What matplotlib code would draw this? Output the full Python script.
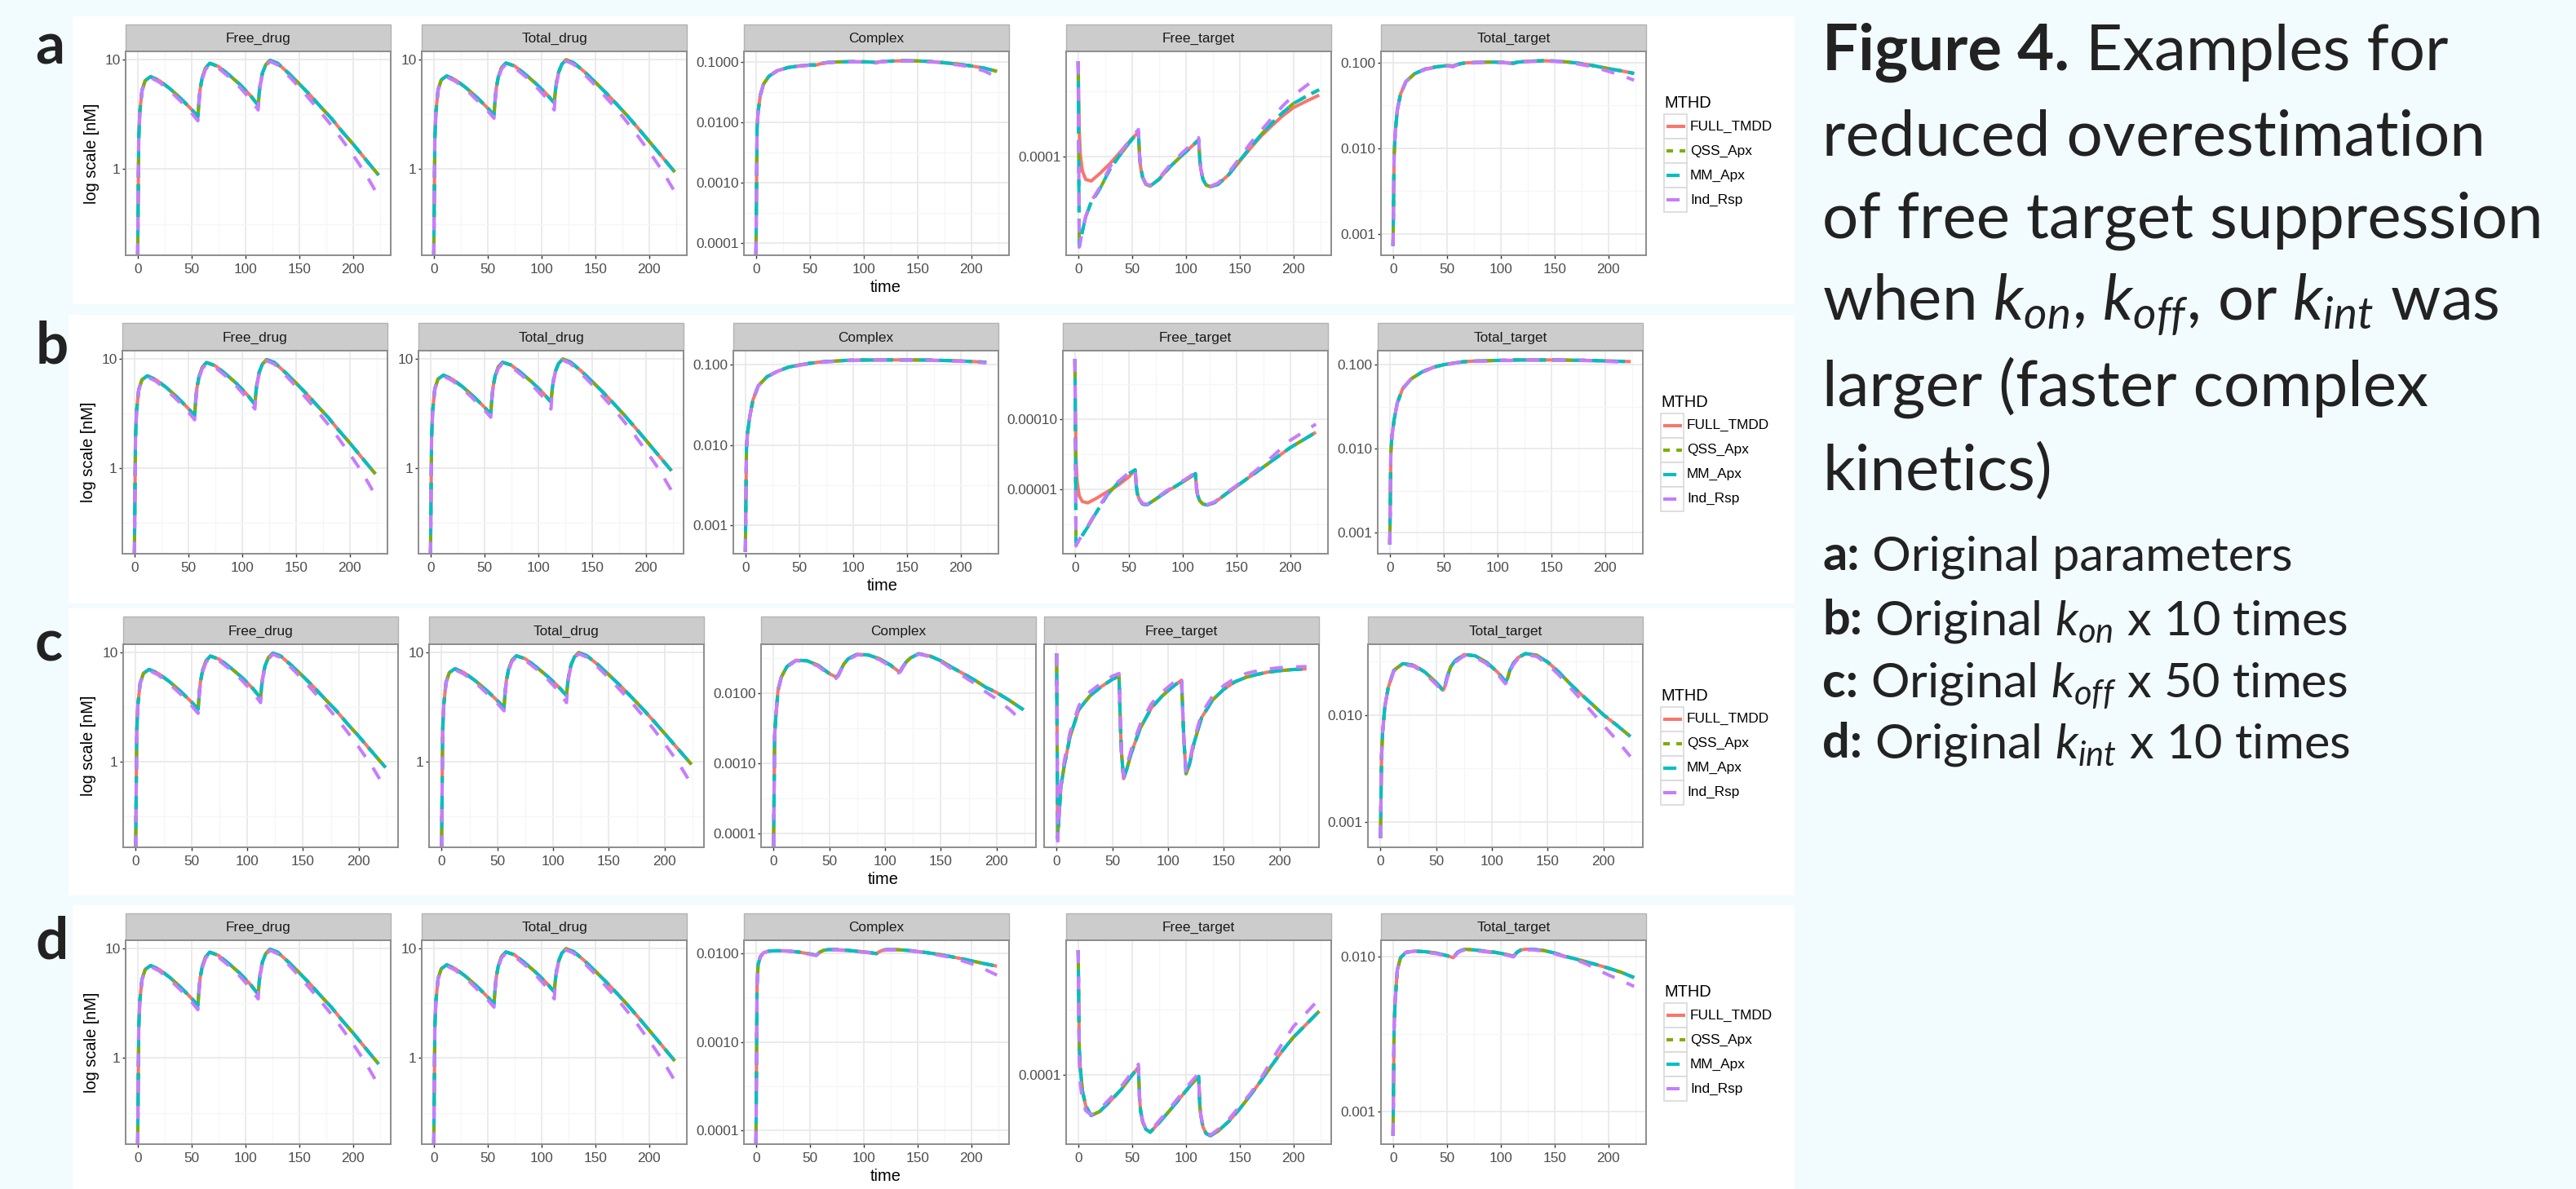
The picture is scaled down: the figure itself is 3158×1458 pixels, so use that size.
import matplotlib
matplotlib.use("Agg")
import math
import matplotlib.pyplot as plt
from matplotlib.patches import Rectangle
from matplotlib.ticker import NullFormatter

W, H, DPI = 3158, 1458, 200

plt.rcParams["font.family"] = ["Liberation Sans", "DejaVu Sans"]
plt.rcParams["mathtext.fontset"] = "custom"
plt.rcParams["mathtext.rm"] = "Lato"
plt.rcParams["mathtext.it"] = "Lato:italic"
plt.rcParams["mathtext.bf"] = "Lato:bold"

BG = "#F2FBFD"
TXT = "#222222"

METHODS = ["FULL_TMDD", "QSS_Apx", "MM_Apx", "Ind_Rsp"]
COLORS = ["#F8766D", "#7CAE00", "#00BFC4", "#C77CFF"]
DASHES = [None, (2, 2), (4, 2), (4, 4)]
PANELS = ["Free_drug", "Total_drug", "Complex", "Free_target", "Total_target"]

# sampling times (doses at 0, 56, 112)
TIME = [0, 1, 2, 4, 7, 12, 20, 30, 40, 50, 56, 57, 58, 60, 63, 67, 75, 85, 95, 105,
        112, 113, 114, 116, 119, 123, 130, 140, 150, 160, 170, 180, 190, 200, 212, 224]

# drug panels look the same in all four rows
FREE_DRUG_FULL = [0.16, 1.9, 3.3, 5.2, 6.4, 6.95, 6.4, 5.4, 4.4, 3.5, 3.0, 4.2, 5.3, 6.8, 8.3, 9.2, 8.6, 7.2,
                  5.9, 4.65, 3.8, 5.0, 6.0, 7.5, 8.9, 9.8, 9.2, 7.5, 6.0, 4.75, 3.7, 2.9, 2.2, 1.7, 1.22, 0.88]
FREE_DRUG_IND = [0.16, 1.9, 3.3, 5.1, 6.3, 6.8, 6.2, 5.15, 4.15, 3.25, 2.75, 3.95, 5.05, 6.55, 8.05, 8.95, 8.3, 6.9,
                 5.55, 4.3, 3.45, 4.7, 5.75, 7.25, 8.65, 9.55, 8.9, 7.1, 5.6, 4.3, 3.3, 2.5, 1.85, 1.35, 0.9, 0.56]
TOTAL_DRUG_FULL = [0.16, 1.9, 3.3, 5.3, 6.5, 7.05, 6.5, 5.5, 4.5, 3.6, 3.1, 4.3, 5.4, 6.9, 8.4, 9.25, 8.7, 7.3,
                   6.0, 4.8, 4.0, 5.1, 6.1, 7.6, 9.0, 9.9, 9.3, 7.7, 6.2, 4.95, 3.9, 3.05, 2.35, 1.8, 1.3, 0.94]
TOTAL_DRUG_IND = [0.16, 1.9, 3.3, 5.2, 6.4, 6.9, 6.3, 5.3, 4.25, 3.4, 2.9, 4.1, 5.2, 6.7, 8.15, 9.0, 8.4, 7.0,
                  5.65, 4.4, 3.45, 4.8, 5.9, 7.4, 8.8, 9.65, 9.0, 7.3, 5.8, 4.5, 3.5, 2.65, 1.98, 1.45, 0.98, 0.62]

# a: original parameters
A_COMPLEX_FULL = [6.5e-5, 0.008, 0.015, 0.028, 0.043, 0.058, 0.072, 0.081, 0.086, 0.089, 0.089, 0.090, 0.091, 0.093,
                  0.096, 0.098, 0.100, 0.101, 0.101, 0.100, 0.098, 0.099, 0.100, 0.101, 0.102, 0.103, 0.104, 0.105,
                  0.104, 0.102, 0.099, 0.095, 0.091, 0.086, 0.079, 0.070]
A_COMPLEX_IND = [6.5e-5, 0.008, 0.015, 0.028, 0.043, 0.058, 0.072, 0.080, 0.085, 0.088, 0.087, 0.089, 0.090, 0.092,
                 0.095, 0.097, 0.099, 0.100, 0.100, 0.099, 0.096, 0.098, 0.099, 0.100, 0.101, 0.102, 0.103, 0.104,
                 0.103, 0.101, 0.098, 0.093, 0.088, 0.082, 0.071, 0.056]
A_FREE_TARGET_FULL = [5.4e-4, 1.59e-4, 1.03e-4, 7.75e-5, 6.71e-5, 6.52e-5, 7.43e-5, 8.95e-5, 1.11e-4, 1.38e-4,
                      1.55e-4, 1.03e-4, 8.33e-5, 6.91e-5, 6.15e-5, 5.98e-5, 6.71e-5, 8.33e-5, 1.0e-4, 1.19e-4,
                      1.35e-4, 9.62e-5, 7.98e-5, 6.71e-5, 6.07e-5, 5.9e-5, 6.15e-5, 7.31e-5, 9.21e-5, 1.16e-4,
                      1.44e-4, 1.73e-4, 2.06e-4, 2.38e-4, 2.67e-4, 2.97e-4]
A_FREE_TARGET_QSS = [5.4e-4, 2.07e-5, 2.28e-5, 2.71e-5, 3.46e-5, 4.48e-5, 5.64e-5, 8.2e-5, 1.06e-4, 1.36e-4,
                     1.55e-4, 1.03e-4, 8.33e-5, 6.91e-5, 6.15e-5, 5.98e-5, 6.71e-5, 8.33e-5, 1.0e-4, 1.19e-4,
                     1.35e-4, 9.62e-5, 7.98e-5, 6.71e-5, 6.07e-5, 5.9e-5, 6.15e-5, 7.31e-5, 9.35e-5, 1.18e-4,
                     1.48e-4, 1.81e-4, 2.18e-4, 2.56e-4, 2.91e-4, 3.27e-4]
A_FREE_TARGET_IND = [5.4e-4, 2.03e-5, 2.25e-5, 2.7e-5, 3.5e-5, 4.55e-5, 5.8e-5, 8.5e-5, 1.1e-4, 1.41e-4,
                     1.62e-4, 1.06e-4, 8.5e-5, 7.0e-5, 6.2e-5, 6.05e-5, 6.85e-5, 8.6e-5, 1.04e-4, 1.24e-4,
                     1.40e-4, 1.0e-4, 8.2e-5, 6.8e-5, 6.1e-5, 5.95e-5, 6.3e-5, 7.6e-5, 9.75e-5, 1.27e-4,
                     1.59e-4, 1.98e-4, 2.45e-4, 2.95e-4, 3.51e-4, 4.14e-4]
A_TOTAL_TARGET_FULL = [7.2e-4, 0.008, 0.015, 0.028, 0.043, 0.060, 0.074, 0.084, 0.089, 0.092, 0.091, 0.092, 0.093,
                       0.095, 0.097, 0.099, 0.100, 0.101, 0.101, 0.100, 0.098, 0.099, 0.100, 0.101, 0.102, 0.103,
                       0.104, 0.105, 0.104, 0.102, 0.099, 0.095, 0.090, 0.085, 0.080, 0.0746]
A_TOTAL_TARGET_IND = [7.2e-4, 0.008, 0.015, 0.028, 0.043, 0.060, 0.074, 0.083, 0.088, 0.091, 0.089, 0.091, 0.092,
                      0.094, 0.096, 0.098, 0.099, 0.100, 0.100, 0.099, 0.096, 0.098, 0.099, 0.100, 0.101, 0.102,
                      0.103, 0.104, 0.103, 0.101, 0.097, 0.092, 0.086, 0.079, 0.071, 0.0622]

# b: kon x 10
B_COMPLEX_FULL = [4.7e-4, 0.009, 0.014, 0.022, 0.036, 0.054, 0.070, 0.082, 0.092, 0.098, 0.101, 0.101, 0.102, 0.103,
                  0.104, 0.106, 0.108, 0.110, 0.112, 0.113, 0.113, 0.113, 0.113, 0.113, 0.113, 0.1134, 0.1134,
                  0.1134, 0.1134, 0.113, 0.113, 0.112, 0.111, 0.110, 0.108, 0.106]
B_COMPLEX_IND = [4.7e-4, 0.009, 0.014, 0.022, 0.036, 0.054, 0.070, 0.082, 0.091, 0.097, 0.100, 0.100, 0.101, 0.102,
                 0.104, 0.105, 0.107, 0.109, 0.111, 0.112, 0.112, 0.112, 0.112, 0.113, 0.113, 0.113, 0.113, 0.113,
                 0.113, 0.112, 0.112, 0.111, 0.110, 0.109, 0.107, 0.104]
B_FREE_TARGET_FULL = [7.36e-4, 2.93e-5, 1.31e-5, 8.07e-6, 6.68e-6, 6.41e-6, 7.45e-6, 9.23e-6, 1.14e-5, 1.5e-5,
                      1.9e-5, 1.14e-5, 8.75e-6, 7.03e-6, 6.17e-6, 6.0e-6, 7.24e-6, 9.23e-6, 1.14e-5, 1.42e-5,
                      1.68e-5, 1.05e-5, 8.28e-6, 6.87e-6, 6.17e-6, 5.96e-6, 6.5e-6, 8.51e-6, 1.10e-5, 1.42e-5,
                      1.83e-5, 2.36e-5, 3.05e-5, 3.94e-5, 5.08e-5, 6.56e-5]
B_FREE_TARGET_QSS = [7.36e-4, 1.6e-6, 1.7e-6, 1.9e-6, 2.22e-6, 2.9e-6, 4.71e-6, 8.28e-6, 1.24e-5, 1.67e-5,
                     1.9e-5, 1.14e-5, 8.75e-6, 7.03e-6, 6.17e-6, 6.0e-6, 7.24e-6, 9.23e-6, 1.14e-5, 1.42e-5,
                     1.68e-5, 1.05e-5, 8.28e-6, 6.87e-6, 6.17e-6, 5.96e-6, 6.5e-6, 8.51e-6, 1.10e-5, 1.42e-5,
                     1.83e-5, 2.36e-5, 3.05e-5, 3.94e-5, 5.08e-5, 6.56e-5]
B_FREE_TARGET_IND = [7.36e-4, 1.55e-6, 1.68e-6, 1.9e-6, 2.25e-6, 3.0e-6, 4.9e-6, 8.6e-6, 1.28e-5, 1.72e-5,
                     1.97e-5, 1.18e-5, 9.0e-6, 7.2e-6, 6.3e-6, 6.1e-6, 7.4e-6, 9.5e-6, 1.18e-5, 1.47e-5,
                     1.74e-5, 1.08e-5, 8.5e-6, 7.0e-6, 6.25e-6, 6.05e-6, 6.65e-6, 8.75e-6, 1.13e-5, 1.48e-5,
                     1.96e-5, 2.63e-5, 3.63e-5, 5.01e-5, 6.56e-5, 8.58e-5]
B_TOTAL_TARGET_FULL = [7.2e-4, 0.009, 0.014, 0.022, 0.035, 0.052, 0.068, 0.082, 0.093, 0.100, 0.103, 0.103, 0.104,
                       0.105, 0.106, 0.108, 0.110, 0.111, 0.112, 0.113, 0.113, 0.113, 0.113, 0.114, 0.114, 0.114,
                       0.114, 0.114, 0.114, 0.114, 0.113, 0.113, 0.112, 0.111, 0.110, 0.109]
B_TOTAL_TARGET_IND = [7.2e-4, 0.009, 0.014, 0.022, 0.035, 0.052, 0.068, 0.081, 0.092, 0.099, 0.102, 0.102, 0.103,
                      0.104, 0.106, 0.107, 0.109, 0.110, 0.111, 0.112, 0.112, 0.112, 0.113, 0.113, 0.113, 0.114,
                      0.114, 0.114, 0.113, 0.113, 0.112, 0.112, 0.111, 0.110, 0.108, 0.106]

# c: koff x 50
C_COMPLEX_FULL = [6.5e-5, 0.0025, 0.0045, 0.011, 0.017, 0.024, 0.0295, 0.029, 0.025, 0.019, 0.017, 0.0175, 0.018,
                  0.021, 0.026, 0.031, 0.036, 0.035, 0.031, 0.025, 0.0205, 0.0205, 0.021, 0.024, 0.028, 0.032,
                  0.0365, 0.034, 0.029, 0.0233, 0.019, 0.0155, 0.0122, 0.0102, 0.0078, 0.0058]
C_COMPLEX_IND = [6.5e-5, 0.0025, 0.0045, 0.011, 0.017, 0.0235, 0.029, 0.0283, 0.0242, 0.0183, 0.0162, 0.017,
                 0.0175, 0.0205, 0.0254, 0.030, 0.0352, 0.0342, 0.030, 0.024, 0.0195, 0.0198, 0.0205, 0.0235,
                 0.0275, 0.0315, 0.036, 0.0333, 0.0282, 0.022, 0.0175, 0.0138, 0.0105, 0.0082, 0.0058, 0.0038]
C_FREE_TARGET_FULL = [8.66e-3, 1.15e-3, 1.42e-3, 2.05e-3, 2.57e-3, 3.49e-3, 4.70e-3, 5.45e-3, 6.02e-3, 6.52e-3,
                      6.74e-3, 4.30e-3, 3.01e-3, 2.21e-3, 2.46e-3, 2.93e-3, 3.83e-3, 4.78e-3, 5.46e-3, 6.07e-3,
                      6.46e-3, 4.70e-3, 3.44e-3, 2.33e-3, 2.57e-3, 3.23e-3, 4.30e-3, 5.22e-3, 5.86e-3, 6.35e-3,
                      6.67e-3, 6.88e-3, 7.06e-3, 7.16e-3, 7.25e-3, 7.31e-3]
C_FREE_TARGET_IND = [8.66e-3, 1.12e-3, 1.45e-3, 2.12e-3, 2.7e-3, 3.65e-3, 4.9e-3, 5.7e-3, 6.25e-3, 6.75e-3,
                     6.95e-3, 4.4e-3, 3.05e-3, 2.25e-3, 2.55e-3, 3.05e-3, 4.0e-3, 5.0e-3, 5.7e-3, 6.3e-3,
                     6.7e-3, 4.8e-3, 3.5e-3, 2.4e-3, 2.65e-3, 3.35e-3, 4.5e-3, 5.45e-3, 6.1e-3, 6.6e-3,
                     6.95e-3, 7.15e-3, 7.3e-3, 7.4e-3, 7.45e-3, 7.5e-3]
C_TOTAL_TARGET_FULL = [7.1e-4, 0.004, 0.007, 0.012, 0.018, 0.026, 0.030, 0.029, 0.025, 0.020, 0.017, 0.0175, 0.019,
                       0.023, 0.028, 0.032, 0.0365, 0.0355, 0.031, 0.025, 0.0205, 0.021, 0.022, 0.026, 0.030, 0.034,
                       0.0372, 0.036, 0.031, 0.025, 0.0195, 0.0155, 0.0125, 0.010, 0.0080, 0.0063]
C_TOTAL_TARGET_IND = [7.1e-4, 0.004, 0.007, 0.012, 0.018, 0.0255, 0.0295, 0.0283, 0.0242, 0.0192, 0.0162, 0.017,
                      0.0183, 0.0222, 0.027, 0.031, 0.0355, 0.0345, 0.030, 0.024, 0.0195, 0.0202, 0.0213, 0.0252,
                      0.0292, 0.033, 0.0365, 0.035, 0.0295, 0.0235, 0.018, 0.0138, 0.0105, 0.0080, 0.0058, 0.0041]

# d: kint x 10
D_COMPLEX_FULL = [7.0e-5, 0.0045, 0.0075, 0.0092, 0.0102, 0.0107, 0.0108, 0.0107, 0.0104, 0.0099, 0.0096, 0.0098,
                  0.0101, 0.0105, 0.0109, 0.0111, 0.0111, 0.0109, 0.0106, 0.0103, 0.0100, 0.0102, 0.0104, 0.0107,
                  0.0110, 0.0111, 0.0111, 0.0109, 0.0106, 0.0102, 0.0098, 0.0093, 0.0088, 0.0083, 0.0077, 0.0072]
D_COMPLEX_IND = [7.0e-5, 0.0045, 0.0075, 0.0092, 0.0102, 0.0107, 0.0108, 0.0107, 0.0103, 0.0098, 0.0095, 0.0097,
                 0.0100, 0.0104, 0.0108, 0.0110, 0.0110, 0.0108, 0.0105, 0.0102, 0.0099, 0.0101, 0.0103, 0.0106,
                 0.0109, 0.0110, 0.0110, 0.0108, 0.0105, 0.0101, 0.0096, 0.0091, 0.0084, 0.0077, 0.0067, 0.0057]
D_FREE_TARGET_FULL = [9.0e-4, 1.6e-4, 1.12e-4, 7.46e-5, 5.77e-5, 4.85e-5, 5.21e-5, 6.28e-5, 7.69e-5, 9.89e-5,
                      1.14e-4, 6.66e-5, 5.29e-5, 4.32e-5, 3.8e-5, 3.62e-5, 4.26e-5, 5.29e-5, 6.66e-5, 8.38e-5,
                      9.68e-5, 5.85e-5, 4.85e-5, 3.96e-5, 3.53e-5, 3.4e-5, 3.69e-5, 4.38e-5, 5.44e-5, 6.95e-5,
                      9.0e-5, 1.18e-4, 1.53e-4, 1.93e-4, 2.43e-4, 3.06e-4]
D_FREE_TARGET_IND = [9.0e-4, 1.25e-4, 8.5e-5, 6.3e-5, 5.3e-5, 4.9e-5, 5.4e-5, 6.6e-5, 8.1e-5, 1.04e-4,
                     1.2e-4, 6.9e-5, 5.4e-5, 4.4e-5, 3.85e-5, 3.68e-5, 4.4e-5, 5.5e-5, 6.95e-5, 8.8e-5,
                     1.02e-4, 6.0e-5, 4.95e-5, 4.0e-5, 3.58e-5, 3.45e-5, 3.8e-5, 4.55e-5, 5.7e-5, 7.15e-5,
                     9.4e-5, 1.29e-4, 1.75e-4, 2.33e-4, 2.97e-4, 3.80e-4]
D_TOTAL_TARGET_FULL = [7.0e-4, 0.0035, 0.0052, 0.0082, 0.0098, 0.0106, 0.0108, 0.0107, 0.0105, 0.0101, 0.0098,
                       0.0100, 0.0102, 0.0106, 0.0109, 0.0111, 0.0110, 0.0108, 0.0106, 0.0103, 0.0100, 0.0102,
                       0.0104, 0.0107, 0.0110, 0.0111, 0.0111, 0.0109, 0.0105, 0.0100, 0.0096, 0.0092, 0.0088,
                       0.0084, 0.0079, 0.0073]
D_TOTAL_TARGET_IND = [7.0e-4, 0.0035, 0.0052, 0.0082, 0.0098, 0.0106, 0.0108, 0.0106, 0.0104, 0.0100, 0.0097,
                      0.0099, 0.0101, 0.0105, 0.0108, 0.0110, 0.0109, 0.0107, 0.0105, 0.0102, 0.0099, 0.0101,
                      0.0103, 0.0106, 0.0109, 0.0110, 0.0110, 0.0108, 0.0104, 0.0099, 0.0095, 0.0089, 0.0082,
                      0.0076, 0.0070, 0.0064]

# y ranges and labelled breaks per panel
DRUG_LIM = (0.164, 11.8)
DRUG_TICKS = ["1", "10"]
YLIM = [
    [DRUG_LIM, DRUG_LIM, (6.34e-5, 0.1496), (1.76e-5, 6.43e-4), (5.62e-4, 0.135)],
    [DRUG_LIM, DRUG_LIM, (4.46e-4, 0.1476), (1.2e-6, 9.64e-4), (5.62e-4, 0.147)],
    [DRUG_LIM, DRUG_LIM, (6.34e-5, 0.0499), (1.047e-3, 9.55e-3), (5.85e-4, 0.0455)],
    [DRUG_LIM, DRUG_LIM, (6.92e-5, 0.01416), (2.93e-5, 1.07e-3), (6.19e-4, 0.01268)],
]
YTICKS = [
    [DRUG_TICKS, DRUG_TICKS, ["0.0001", "0.0010", "0.0100", "0.1000"], ["0.0001"], ["0.001", "0.010", "0.100"]],
    [DRUG_TICKS, DRUG_TICKS, ["0.001", "0.010", "0.100"], ["0.00001", "0.00010"], ["0.001", "0.010", "0.100"]],
    [DRUG_TICKS, DRUG_TICKS, ["0.0001", "0.0010", "0.0100"], [], ["0.001", "0.010"]],
    [DRUG_TICKS, DRUG_TICKS, ["0.0001", "0.0010", "0.0100"], ["0.0001"], ["0.001", "0.010"]],
]
XTICKS = [0, 50, 100, 150, 200]
XMINOR = [25, 75, 125, 175, 225]


def four(full, ind, approx=None):
    approx = full if approx is None else approx
    return [full, approx, approx, ind]


SERIES = [
    [four(FREE_DRUG_FULL, FREE_DRUG_IND), four(TOTAL_DRUG_FULL, TOTAL_DRUG_IND),
     four(A_COMPLEX_FULL, A_COMPLEX_IND), four(A_FREE_TARGET_FULL, A_FREE_TARGET_IND, A_FREE_TARGET_QSS),
     four(A_TOTAL_TARGET_FULL, A_TOTAL_TARGET_IND)],
    [four(FREE_DRUG_FULL, FREE_DRUG_IND), four(TOTAL_DRUG_FULL, TOTAL_DRUG_IND),
     four(B_COMPLEX_FULL, B_COMPLEX_IND), four(B_FREE_TARGET_FULL, B_FREE_TARGET_IND, B_FREE_TARGET_QSS),
     four(B_TOTAL_TARGET_FULL, B_TOTAL_TARGET_IND)],
    [four(FREE_DRUG_FULL, FREE_DRUG_IND), four(TOTAL_DRUG_FULL, TOTAL_DRUG_IND),
     four(C_COMPLEX_FULL, C_COMPLEX_IND), four(C_FREE_TARGET_FULL, C_FREE_TARGET_IND),
     four(C_TOTAL_TARGET_FULL, C_TOTAL_TARGET_IND)],
    [four(FREE_DRUG_FULL, FREE_DRUG_IND), four(TOTAL_DRUG_FULL, TOTAL_DRUG_IND),
     four(D_COMPLEX_FULL, D_COMPLEX_IND), four(D_FREE_TARGET_FULL, D_FREE_TARGET_IND),
     four(D_TOTAL_TARGET_FULL, D_TOTAL_TARGET_IND)],
]

# layout in pixels of the 3158 x 1458 canvas
ROW_LETTERS = ["a", "b", "c", "d"]
LETTER_POS = [(61, 78), (64, 445), (60, 810), (64, 1175)]
BOX = [(89, 20, 373), (84, 386, 740), (84, 746, 1098), (89, 1110, 1458)]
BOX_RIGHT = 2200
STRIP_TOP = [30, 396, 756, 1120]
PLOT_TOP = [63, 430, 790, 1153]
PLOT_BOTTOM = [313, 679, 1039, 1403]
PANEL_LEFT = [[154, 517, 912, 1307, 1693], [150, 513, 899, 1303, 1689],
              [151, 526, 933, 1280, 1677], [154, 517, 912, 1307, 1693]]
PANEL_WIDTH = [325, 325, 337, 325]

SMALL = 6.2
TITLE = 7.2
LW = 1.45

fig = plt.figure(figsize=(W / DPI, H / DPI), dpi=DPI, facecolor=BG)
bg = fig.add_axes([0, 0, 1, 1])
bg.set_xlim(0, W)
bg.set_ylim(H, 0)
bg.axis("off")


def style_line(line, dash):
    line.set_solid_capstyle("butt")
    line.set_dash_capstyle("butt")
    if dash is not None:
        line.set_dashes(dash)


for r in range(4):
    x0, y0, y1 = BOX[r]
    bg.add_patch(Rectangle((x0, y0), BOX_RIGHT - x0, y1 - y0, facecolor="white", edgecolor="none"))
    lx, ly = LETTER_POS[r]
    bg.text(lx, ly, ROW_LETTERS[r], family="Lato", weight="bold", fontsize=25.5, color=TXT,
            ha="center", va="baseline")

    w = PANEL_WIDTH[r]
    top, bot = PLOT_TOP[r], PLOT_BOTTOM[r]
    for p in range(5):
        left = PANEL_LEFT[r][p]
        bg.add_patch(Rectangle((left, STRIP_TOP[r]), w, top - STRIP_TOP[r], facecolor="#CCCCCC",
                               edgecolor="#B3B3B3", linewidth=0.5))
        bg.text(left + w / 2, (STRIP_TOP[r] + top) / 2 + 1, PANELS[p], fontsize=SMALL, color="#1A1A1A",
                ha="center", va="center")

        ax = fig.add_axes([left / W, 1 - bot / H, w / W, (bot - top) / H])
        ax.set_facecolor("white")
        ax.set_yscale("log")
        lo, hi = YLIM[r][p]
        for vals, color, dash in zip(SERIES[r][p], COLORS, DASHES):
            line, = ax.plot(TIME, vals, color=color, lw=LW)
            style_line(line, dash)
        ax.set_xlim(-11.2, 235.2)
        ax.set_ylim(lo, hi)

        labels = YTICKS[r][p]
        ax.set_yticks([float(s) for s in labels], labels=labels)
        minor = []
        if labels:
            for k in range(math.floor(math.log10(lo)) - 1, math.ceil(math.log10(hi)) + 1):
                v = 10 ** (k + 0.5)
                if lo < v < hi:
                    minor.append(v)
        ax.set_yticks(minor, minor=True)
        ax.yaxis.set_minor_formatter(NullFormatter())
        ax.set_xticks(XTICKS)
        ax.set_xticks(XMINOR, minor=True)

        ax.grid(which="major", color="#E8E8E8", linewidth=0.6)
        ax.grid(which="minor", color="#F6F6F6", linewidth=0.5)
        ax.set_axisbelow(True)
        for s in ax.spines.values():
            s.set_color("#8C8C8C")
            s.set_linewidth(0.7)
        ax.tick_params(which="minor", length=0)
        ax.tick_params(which="major", length=1.5, width=0.5, color="#333333",
                       labelsize=SMALL, labelcolor="#4D4D4D")
        ax.tick_params(axis="x", pad=2.0)
        ax.tick_params(axis="y", pad=0.8)

    # axis titles
    mid_y = (top + bot) / 2
    bg.text(PANEL_LEFT[r][0] - 42, mid_y, "log scale [nM]", rotation=90, fontsize=TITLE, color="black",
            ha="center", va="center")
    span_l, span_r = PANEL_LEFT[r][0], PANEL_LEFT[r][4] + w
    bg.text((span_l + span_r) / 2, bot + 39, "time", fontsize=TITLE, color="black", ha="center", va="center")

    # legend
    gx = span_r + 22
    bg.text(gx, mid_y - 61.5, "MTHD", fontsize=TITLE, color="black", ha="left", va="center")
    for i, (name, color, dash) in enumerate(zip(METHODS, COLORS, DASHES)):
        yc = mid_y - 33 + 30 * i
        bg.add_patch(Rectangle((gx, yc - 15), 28, 30, facecolor="white", edgecolor="#D9D9D9", linewidth=0.6))
        line, = bg.plot([gx + 2.5, gx + 25.5], [yc, yc], color=color, lw=LW)
        style_line(line, dash)
        bg.text(gx + 32, yc, name, fontsize=SMALL, color="black", ha="left", va="center")

# caption on the right: (bold lead, rest of line)
RIGHT_LINES = [("Figure 4.", " Examples for"), ("", "reduced overestimation"), ("", "of free target suppression"),
               ("", r"when $k_{on}$, $k_{off}$, or $k_{int}$ was"), ("", "larger (faster complex"),
               ("", "kinetics)")]
RIGHT_BASE = [86, 190, 292, 393, 498, 601]
SUB_LINES = [("a:", " Original parameters"), ("b:", r" Original $k_{on}$ x 10 times"),
             ("c:", r" Original $k_{off}$ x 50 times"), ("d:", r" Original $k_{int}$ x 10 times")]
SUB_BASE = [699, 778, 855, 929]
CAP_X = 2234

renderer = fig.canvas.get_renderer()


def caption(lines, bases, ref_text, target):
    probe = bg.text(0, 0, ref_text, family="Lato", fontsize=20)
    size = 20 * target / probe.get_window_extent(renderer).width
    probe.remove()
    for (lead, rest), y in zip(lines, bases):
        x = CAP_X
        if lead:
            t = bg.text(x, y, lead, family="Lato", weight="bold", fontsize=size, color=TXT,
                        ha="left", va="baseline")
            x += t.get_window_extent(renderer).width
        bg.text(x, y, rest, family="Lato", fontsize=size, color=TXT, ha="left", va="baseline")


caption(RIGHT_LINES, RIGHT_BASE, "of free target suppression", 884)
caption(SUB_LINES, SUB_BASE, "a: Original parameters", 575)

fig.savefig("out.png", dpi=DPI, facecolor=BG)
